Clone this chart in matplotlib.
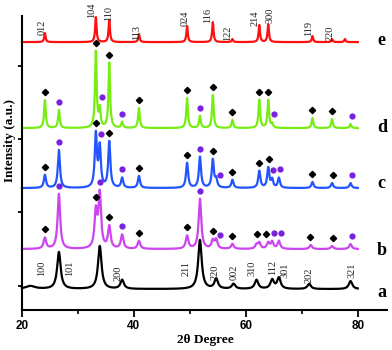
import matplotlib
matplotlib.use('Agg')
import matplotlib.pyplot as plt
import numpy as np

# peak tables: 2theta position, height (offset units)
pos_a = [21.5, 26.6, 33.9, 37.9, 51.8, 54.7, 57.8, 61.9, 64.7, 65.9, 71.3, 78.7]
hgt_a = [3, 37, 43, 9, 49, 10, 5, 9, 9, 11, 5, 8]

pos_b = [24.1, 26.6, 33.2, 33.9, 35.6, 37.9, 40.9, 49.5, 51.8, 54.1, 54.7, 57.6,
         61.9, 62.4, 64.0, 64.7, 65.9, 71.6, 75.4, 78.7]
hgt_b = [11, 55, 36, 54, 22, 14, 8, 13, 50, 8, 9, 5, 4, 6, 6, 7, 8, 4, 3, 5]

pos_c = [24.1, 26.6, 33.2, 33.9, 35.6, 37.9, 40.9, 49.5, 51.8, 54.1, 54.7, 57.6,
         62.4, 64.0, 64.7, 65.9, 71.9, 75.4, 78.7]
hgt_c = [13, 38, 53, 40, 46, 10, 12, 25, 31, 28, 8, 8, 17, 20, 8, 10, 6, 5, 5]

pos_d = [24.1, 26.6, 33.2, 33.9, 35.6, 37.9, 40.9, 49.5, 51.8, 54.1, 57.6, 62.4,
         64.0, 64.7, 71.9, 75.4, 78.7]
hgt_d = [28, 18, 76, 18, 65, 6, 20, 30, 12, 33, 8, 28, 28, 4, 10, 9, 4]

pos_e = [24.1, 33.2, 35.6, 40.9, 49.5, 54.1, 57.6, 62.4, 64.0, 71.9, 75.4, 77.7]
hgt_e = [9, 25, 22, 8, 16, 20, 3, 17, 18, 6, 3, 3]

# marker positions (diamond = hematite, circle = SnO2)
dia_b = [24.1, 33.2, 35.6, 40.9, 49.5, 54.1, 57.6, 62.0, 63.6, 71.4, 75.6]
cir_b = [26.6, 33.9, 37.9, 51.8, 55.4, 65.0, 66.2, 79.0]
dia_c = [24.1, 33.2, 35.6, 40.9, 49.5, 54.2, 57.6, 62.3, 64.1, 71.8, 75.5]
cir_c = [26.6, 34.2, 37.9, 51.8, 55.4, 64.8, 66.1, 79.0]
dia_d = [24.1, 33.2, 35.6, 40.9, 49.5, 54.1, 57.6, 62.4, 64.0, 71.9, 75.4]
cir_d = [26.6, 34.3, 37.9, 51.8, 65.1, 79.0]

hkl_a = ['100', '101', '200', '211', '220', '002', '310', '112', '301', '202', '321']
hkl_a_x = [23.6, 28.6, 37.2, 49.4, 54.5, 57.9, 61.1, 64.8, 67.0, 71.3, 78.9]
hkl_a_y = [42, 42, 37, 42, 38, 38, 42, 43, 40, 35, 40]
hkl_e = ['012', '104', '110', '113', '024', '116', '122', '214', '300', '119', '220']
hkl_e_x = [23.6, 32.5, 35.4, 40.5, 49.1, 53.2, 56.8, 61.6, 64.3, 71.3, 75.0]
hkl_e_y = [283, 300, 297, 278, 292, 295, 277, 292, 295, 282, 277]

offsets = [21, 61, 122, 182, 268]
colors = ['black', '#cc44ee', '#2255ff', '#77ee11', '#ff1010']
widths = [0.75, 0.55, 0.45, 0.35, 0.3]
names = ['a', 'b', 'c', 'd', 'e']
name_y = [18, 60, 127, 183, 270]

tt = np.linspace(20, 80, 2400)

def pattern(pos, hgt, w):
    y = np.zeros_like(tt)
    for p, h in zip(pos, hgt):
        ww = 2.0 if h < 4 and p < 23 else w
        y += h / (1 + ((tt - p) / (ww / 2)) ** 2)
    return y

plt.rcParams['font.family'] = ['Liberation Serif', 'DejaVu Serif']

fig = plt.figure(figsize=(3.92, 3.5), dpi=100)
ax = fig.add_axes([0.056, 0.114, 0.931, 0.84])

curves = []
for pos, hgt, off, c, w in zip([pos_a, pos_b, pos_c, pos_d, pos_e],
                               [hgt_a, hgt_b, hgt_c, hgt_d, hgt_e],
                               offsets, colors, widths):
    y = pattern(pos, hgt, w) + off
    curves.append(y)
    ax.plot(tt, y, color=c, lw=1.6, clip_on=False)

def mark(y, xs, style):
    for x in xs:
        m = (tt > x - 0.45) & (tt < x + 0.45)
        yy = y[m].max() + 8
        if style == 'D':
            ax.plot(x, yy, 'D', color='black', ms=3.2, clip_on=False)
        else:
            ax.plot(x, yy, 'o', color='#7722dd', ms=4.5, mec='none', clip_on=False)

mark(curves[1], dia_b, 'D'); mark(curves[1], cir_b, 'o')
mark(curves[2], dia_c, 'D'); mark(curves[2], cir_c, 'o')
mark(curves[3], dia_d, 'D'); mark(curves[3], cir_d, 'o')

for t, x, y in zip(hkl_a, hkl_a_x, hkl_a_y):
    ax.text(x, y, t, rotation=90, ha='center', va='center', fontsize=7.5, color='#222222')
for t, x, y in zip(hkl_e, hkl_e_x, hkl_e_y):
    ax.text(x, y, t, rotation=90, ha='center', va='center', fontsize=7.5,
            color='#222222', clip_on=False)

for n, y in zip(names, name_y):
    ax.text(84.3, y, n, ha='center', va='center', fontsize=13, fontweight='bold')

ax.set_xlim(20, 85.2)
ax.set_ylim(0, 294)
ax.spines['top'].set_visible(False)
ax.spines['right'].set_visible(False)
ax.spines['left'].set_linewidth(1.5)
ax.spines['bottom'].set_linewidth(1.5)
ax.set_xticks([20, 40, 60, 80])
ax.set_xticks([30, 50, 70], minor=True)
ax.set_yticks([24, 98, 171, 244])
ax.set_yticklabels([])
ax.tick_params(axis='x', which='major', length=5, width=1.3, pad=2)
ax.tick_params(axis='x', which='minor', length=3, width=1.2)
ax.tick_params(axis='y', length=3, width=1.3)
for lab in ax.get_xticklabels():
    lab.set_family('Liberation Sans')
    lab.set_fontweight('bold')
    lab.set_fontsize(8.5)

fig.text(205 / 392, 1 - 340 / 350, '2θ Degree', ha='center', va='center',
         fontsize=9.5, fontweight='bold')
fig.text(10 / 392, 1 - 141 / 350, 'Intensity (a.u.)', ha='center', va='center',
         rotation=90, fontsize=9.5, fontweight='bold')

fig.savefig('out.png', dpi=100)
